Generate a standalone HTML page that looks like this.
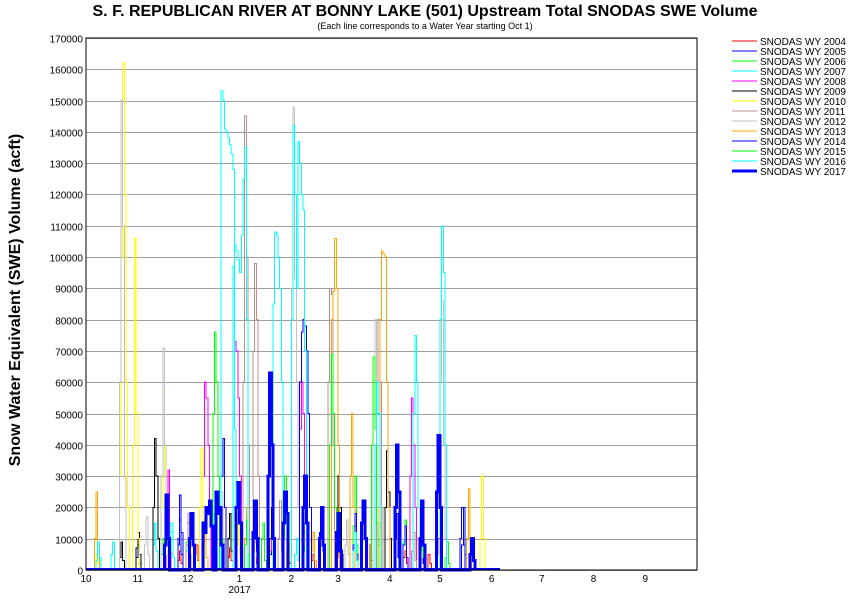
<!DOCTYPE html>
<html><head><meta charset="utf-8"><style>
body{margin:0;background:#fff;font-family:"Liberation Sans",Arial,sans-serif}
svg text{font-family:"Liberation Sans",Arial,sans-serif}
</style></head><body>
<svg id="c" width="850" height="600" xmlns="http://www.w3.org/2000/svg">
<text x="425" y="16" text-anchor="middle" font-size="16" font-weight="bold">S. F. REPUBLICAN RIVER AT BONNY LAKE (501) Upstream Total SNODAS SWE Volume</text>
<text x="425" y="29" text-anchor="middle" font-size="9">(Each line corresponds to a Water Year starting Oct 1)</text>
<text transform="translate(20,300) rotate(-90)" text-anchor="middle" font-size="16" font-weight="bold">Snow Water Equivalent (SWE) Volume (acft)</text>
<g id="grid" shape-rendering="crispEdges"></g><g id="series" shape-rendering="crispEdges"></g><g id="axes" shape-rendering="crispEdges"></g><g id="legend" shape-rendering="crispEdges"></g>
</svg>
<script>
const yTicks=[0,10000,20000,30000,40000,50000,60000,70000,80000,90000,100000,110000,120000,130000,140000,150000,160000,170000];
const monthLabels=["10","11","12","1","2","3","4","5","6","7","8","9"];
const monthStartDays=[0,31,61,92,123,151,182,212,243,273,304,335];
const years=["SNODAS WY 2004","SNODAS WY 2005","SNODAS WY 2006","SNODAS WY 2007","SNODAS WY 2008","SNODAS WY 2009","SNODAS WY 2010","SNODAS WY 2011","SNODAS WY 2012","SNODAS WY 2013","SNODAS WY 2014","SNODAS WY 2015","SNODAS WY 2016","SNODAS WY 2017"];
const colors=["#ff0000","#0000ff","#00ff00","#00ffff","#ff00ff","#000000","#ffff00","#bc8f8f","#c0c0c0","#ffa500","#0000ff","#00ff00","#00ffff","#0000ff"];
const s2004=[[65,[5,8,3]],[100,[6,9,2]],[150,[4,7,2]],[170,[8,3]],[205,[5,2]],[55,[3,6,2]],[85,[4,7,3]],[120,[5,8,2]],[135,[3,5]],[190,[4,6,2]]];
const s2005=[[55,[10,24,12]],[90,[8,15,5]],[140,[12,20,6]],[185,[10,18,4]],[225,[8,20,5]],[30,[4,8,2]],[70,[6,12,4]],[110,[5,10,3]],[160,[7,12,3]],[200,[6,10,2]]];
const s2006=[[60,[9,18,4]],[105,[10,15,3]],[160,[14,30,8]],[190,[9,16,4]],[45,[5,10,3]],[80,[8,14,5]],[130,[6,12,3]],[175,[8,15,4]],[215,[4,9,2]]];
const s2007=[[40,[8,15,6]],[15,[5,9]],[95,[10,20,5]],[175,[9,14,3]],[60,[6,12,4]],[75,[10,18,6]],[125,[5,10,3]],[150,[6,11,2]]];
const s2008=[[70,[30,60,55,40,20]],[88,[50,73,70,55,30]],[128,[45,60,50,30]],[194,[30,55,40,20]],[48,[20,32,10]],[110,[6,12,4]],[160,[8,14,3]],[210,[5,10,2]]];
const s2009=[[40,[20,42,30,10]],[30,[7,12,5]],[150,[15,30,20,5]],[179,[20,38,25,10]],[110,[10,20,8]],[20,[4,9,3]],[60,[8,15,5]],[85,[10,18,6]],[135,[6,12,3]],[200,[6,14,4]]];
const s2010=[[20,[30,100,162,120,60,20]],[28,[40,106,50,10]],[45,[20,57,30,5]],[68,[20,39,15]],[5,[3,5,2]],[236,[10,30,10]],[90,[8,15,4]],[120,[6,12,3]]];
const s2011=[[94,[60,145,100,40]],[100,[70,98,80,30]],[145,[60,90,88,40]],[174,[50,80,60,20]],[60,[8,18,5]],[115,[10,22,6]],[130,[8,15,4]],[195,[6,12,3]]];
const s2012=[[20,[60,150,110,30]],[45,[30,71,40,10]],[123,[90,148,93,60,20]],[172,[50,80,40]],[212,[60,86,40,10]],[80,[10,25,10]],[35,[8,17,5]],[100,[6,12,4]],[155,[8,16,5]]];
const s2013=[[5,[10,25,8]],[147,[80,89,106,90,40]],[158,[30,50,20]],[176,[80,102,101,100,60,20]],[228,[10,26,5]],[70,[8,16,4]],[95,[10,20,5]],[135,[6,12,3]]];
const s2014=[[81,[30,42,20]],[128,[60,76,80,78,70,50,20]],[224,[10,20,8]],[160,[8,18,5]],[55,[8,16,5]],[100,[10,20,6]],[190,[8,14,4]]];
const s2015=[[76,[50,76,60,30]],[146,[40,69,50,20]],[171,[40,68,45,15]],[118,[10,30,15]],[50,[6,12,4]],[95,[8,16,5]],[200,[6,15,4]]];
const s2016=[[81,[153,150,141,140,138,136,133,128,45]],[88,[97,104,102,99,95,107,125,135,80]],[112,[85,108,107,100,90,60]],[123,[80,142,120,90,137,130,120,115,70]],[173,[40,60,50,20]],[196,[50,75,60,20]],[212,[80,110,95,40]],[6,[3,9,4]],[50,[8,15,4]],[160,[6,12,3]]];
const s2017=[[47,[8,24,10]],[62,[10,18,8]],[70,[15,12,20,18,22,14]],[78,[25,18,20,8]],[90,[20,28,15]],[100,[12,22,10]],[109,[30,63,40,10]],[118,[15,25,18]],[130,[20,30,15]],[140,[10,20,8]],[150,[12,18,6]],[165,[15,22,10]],[185,[20,40,25]],[200,[10,22,8]],[210,[25,43,20]],[230,[5,10,3]]];
const seriesData=[s2004,s2005,s2006,s2007,s2008,s2009,s2010,s2011,s2012,s2013,s2014,s2015,s2016,s2017];
const X0=86,X1=697,Y0=570,Y1=38,DAYS=366,YMAX=170000;
const xs=d=>X0+d*(X1-X0)/DAYS, ys=v=>Y0-v*(Y0-Y1)/YMAX;
const NS="http://www.w3.org/2000/svg";
function mk(t,a,p){const e=document.createElementNS(NS,t);for(const k in a)e.setAttribute(k,a[k]);p.appendChild(e);return e;}
const grid=document.getElementById('grid'),axes=document.getElementById('axes'),ser=document.getElementById('series'),leg=document.getElementById('legend');
yTicks.forEach(v=>{const y=Math.round(ys(v))+0.5;
 const g=mk('line',{x1:X0,x2:X1,y1:y,y2:y,stroke:'#a0a0a0','stroke-width':1},grid);
 
 
 const t=mk('text',{x:X0-3,y:y+4,'text-anchor':'end','font-size':10},axes);t.textContent=v;
 
 
});
monthLabels.forEach((m,i)=>{const x=xs(monthStartDays[i]);
 const t=mk('text',{x:x,y:582,'text-anchor':'middle','font-size':10},axes);t.textContent=m;
 
 
});
const yr=mk('text',{x:xs(92),y:593,'text-anchor':'middle','font-size':10},axes);yr.textContent="2017";


const fr=mk('rect',{x:X0,y:Y1,width:X1-X0,height:Y0-Y1,fill:'none',stroke:'#000'},axes);


seriesData.forEach((evs,i)=>{
 let pts=[];
 evs.slice().sort((a,b)=>a[0]-b[0]).forEach(ev=>{
  let d=ev[0];pts.push([d,0]);
  ev[1].forEach(v=>{pts.push([d,v*1000]);pts.push([d+1,v*1000]);d+=1;});
  pts.push([d,0]);
 });
 const p=mk('polyline',{points:pts.map(q=>xs(q[0]).toFixed(1)+','+ys(q[1]).toFixed(1)).join(' '),fill:'none',stroke:colors[i],'stroke-width':i==13?3:1},ser);
 
 
});
const base=mk('line',{x1:X0,x2:500,y1:Y0-1,y2:Y0-1,stroke:'#0000ff','stroke-width':2},ser);


years.forEach((n,i)=>{const y=41+i*10;
 const l=mk('line',{x1:732,x2:757,y1:y,y2:y,stroke:colors[i],'stroke-width':i==13?3:1},leg);
 
 
 const t=mk('text',{x:760,y:y+4,'font-size':10},leg);t.textContent=n;
 
 
});
</script>
</body></html>
